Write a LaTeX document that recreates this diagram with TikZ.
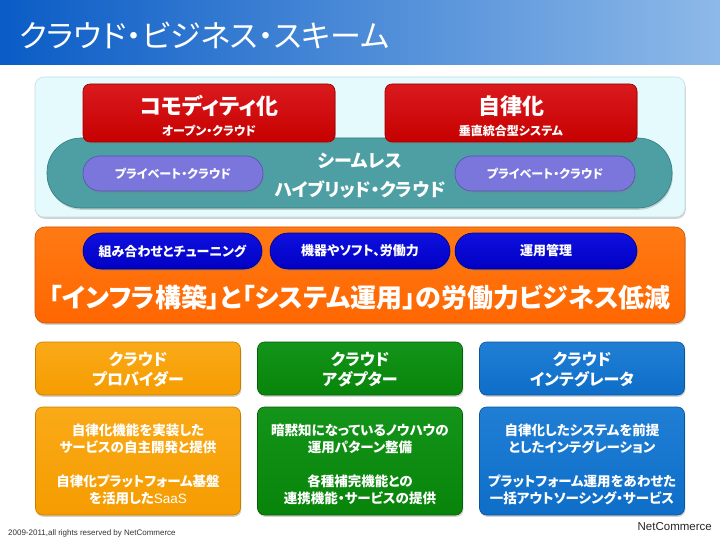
\documentclass[tikz,border=0pt]{standalone}
\usepackage{fontspec}
\setmainfont{Noto Sans CJK JP}[RawFeature=+palt]
\newfontfamily\lib{Liberation Sans}
\usetikzlibrary{shadows,shapes.misc}
\definecolor{hdrL}{HTML}{0A5CC6}
\definecolor{hdrR}{HTML}{8DB9E8}
\definecolor{panelF}{HTML}{E4FAFC}
\definecolor{panelD}{HTML}{BFE0E6}
\definecolor{redT}{HTML}{DA1A1E}
\definecolor{redB}{HTML}{C60000}
\definecolor{redD}{HTML}{9A0000}
\definecolor{tealF}{HTML}{4E9FA3}
\definecolor{tealD}{HTML}{2F7C80}
\definecolor{purF}{HTML}{7A76DC}
\definecolor{purD}{HTML}{5450B5}
\definecolor{oraT}{HTML}{FF7A14}
\definecolor{oraB}{HTML}{FF6600}
\definecolor{oraD}{HTML}{D05400}
\definecolor{bluT}{HTML}{1010E0}
\definecolor{bluB}{HTML}{0000C4}
\definecolor{bluD}{HTML}{000080}
\definecolor{ambT}{HTML}{FAAA18}
\definecolor{ambB}{HTML}{F59C00}
\definecolor{ambD}{HTML}{C87F00}
\definecolor{grnT}{HTML}{14941A}
\definecolor{grnB}{HTML}{08840A}
\definecolor{grnD}{HTML}{056006}
\definecolor{cblT}{HTML}{207ED4}
\definecolor{cblB}{HTML}{0E6EC8}
\definecolor{cblD}{HTML}{0A559C}
\tikzset{
  shd/.style={drop shadow={opacity=0.35,shadow xshift=0.8pt,shadow yshift=-1.8pt}},
  base/.style={rectangle, rounded corners=7pt, line width=0.6pt, shd, inner sep=0pt},
  lbl/.style={text=white, font=\bfseries, align=center, inner sep=0pt},
  panelbox/.style={base, draw=panelD, fill=panelF, rounded corners=9pt},
  tealbox/.style={base, draw=tealD, fill=tealF, rounded corners=34pt},
  redbox/.style={base, draw=redD, top color=redT, bottom color=redB},
  purbox/.style={base, draw=purD, fill=purF, rounded corners=17pt},
  orabox/.style={base, draw=oraD, top color=oraT, bottom color=oraB, rounded corners=10pt},
  blubox/.style={base, draw=bluD, top color=bluT, bottom color=bluB, rounded corners=18pt},
  ambbox/.style={base, draw=ambD, top color=ambT, bottom color=ambB},
  grnbox/.style={base, draw=grnD, top color=grnT, bottom color=grnB},
  cblbox/.style={base, draw=cblD, top color=cblT, bottom color=cblB},
}
\begin{document}
\begin{tikzpicture}[x=1pt,y=-1pt]
\useasboundingbox (0,0) rectangle (720,540);
\fill[white] (0,0) rectangle (720,540);
% header
\shade[left color=hdrL, right color=hdrR] (0,0) rectangle (720,65);
\node[anchor=west, text=white, inner sep=0pt, font=\fontsize{31}{33}\selectfont] (title) at (19,35) {クラウド・ビジネス・スキーム};
% top panel
\node[panelbox, minimum width=650, minimum height=140] (top) at (360,147) {};
\node[tealbox, minimum width=625, minimum height=70] (teal) at (359.5,173) {};
\node[redbox, minimum width=252, minimum height=58] (redL) at (209,113) {};
\node[redbox, minimum width=252, minimum height=58] (redR) at (511,113) {};
\node[purbox, minimum width=180, minimum height=35] (purL) at (173,173.5) {};
\node[purbox, minimum width=180, minimum height=35] (purR) at (545,173.5) {};
\node[lbl, font=\bfseries\fontsize{22}{24}\selectfont] (redLt) at (209,106) {コモディティ化};
\node[lbl, font=\bfseries\fontsize{12}{14}\selectfont] (redLs) at (209,131) {オープン・クラウド};
\node[lbl, font=\bfseries\fontsize{22}{24}\selectfont] (redRt) at (511,106) {自律化};
\node[lbl, font=\bfseries\fontsize{12}{14}\selectfont] (redRs) at (511,131) {垂直統合型システム};
\node[lbl, font=\bfseries\fontsize{12}{14}\selectfont] (purLt) at (173,173.5) {プライベート・クラウド};
\node[lbl, font=\bfseries\fontsize{12}{14}\selectfont] (purRt) at (545,173.5) {プライベート・クラウド};
\node[lbl, font=\bfseries\fontsize{18}{20}\selectfont] (seam) at (360,161) {シームレス};
\node[lbl, font=\bfseries\fontsize{18}{20}\selectfont] (hyb) at (360,190) {ハイブリッド・クラウド};
% orange panel
\node[orabox, minimum width=650, minimum height=96] (ora) at (360,275) {};
\node[blubox, minimum width=179, minimum height=36] (b1) at (172.5,251) {};
\node[blubox, minimum width=180, minimum height=36] (b2) at (360,251) {};
\node[blubox, minimum width=182, minimum height=36] (b3) at (546,251) {};
\node[lbl, font=\bfseries\fontsize{13}{15}\selectfont] (b1t) at (b1) {組み合わせとチューニング};
\node[lbl, font=\bfseries\fontsize{13}{15}\selectfont] (b2t) at (b2) {機器やソフト、労働力};
\node[lbl, font=\bfseries\fontsize{13}{15}\selectfont] (b3t) at (b3) {運用管理};
\node[lbl, font=\bfseries\fontsize{26}{28}\selectfont] (big) at (360,297) {「インフラ構築」と「システム運用」の労働力ビジネス低減};
% bottom boxes
\node[ambbox, minimum width=205, minimum height=53] (p1) at (138,368.5) {};
\node[grnbox, minimum width=205, minimum height=53] (a1) at (360,368.5) {};
\node[cblbox, minimum width=205, minimum height=53] (i1) at (582,368.5) {};
\node[ambbox, minimum width=205, minimum height=108] (p2) at (138,461) {};
\node[grnbox, minimum width=205, minimum height=108] (a2) at (360,461) {};
\node[cblbox, minimum width=205, minimum height=108] (i2) at (582,461) {};
\tikzset{hd/.style={lbl, font=\bfseries\fontsize{16}{20}\selectfont},
         bd/.style={lbl, font=\bfseries\fontsize{13.5}{17}\selectfont}}
\node[hd] (p1t) at (138,370) {クラウド\\プロバイダー};
\node[hd] (a1t) at (360,370) {クラウド\\アダプター};
\node[hd] (i1t) at (582,370) {クラウド\\インテグレータ};
\node[bd] (p2t) at (138,464) {自律化機能を実装した\\サービスの自主開発と提供\\[17pt]自律化プラットフォーム基盤\\を活用した{\lib\mdseries SaaS}};
\node[bd] (a2t) at (360,464) {暗黙知になっているノウハウの\\運用パターン整備\\[17pt]各種補完機能との\\連携機能・サービスの提供};
\node[bd] (i2t) at (582,464) {自律化したシステムを前提\\としたインテグレーション\\[17pt]プラットフォーム運用をあわせた\\一括アウトソーシング・サービス};
% footer
\node[anchor=west, inner sep=0pt, text=black!80, font=\lib\fontsize{8}{10}\selectfont] (copy) at (8,533) {2009-2011,all rights reserved by NetCommerce};
\node[anchor=east, inner sep=0pt, text=black!85, font=\lib\fontsize{11.5}{13}\selectfont] (nc) at (712,527) {NetCommerce};
\end{tikzpicture}
\end{document}
